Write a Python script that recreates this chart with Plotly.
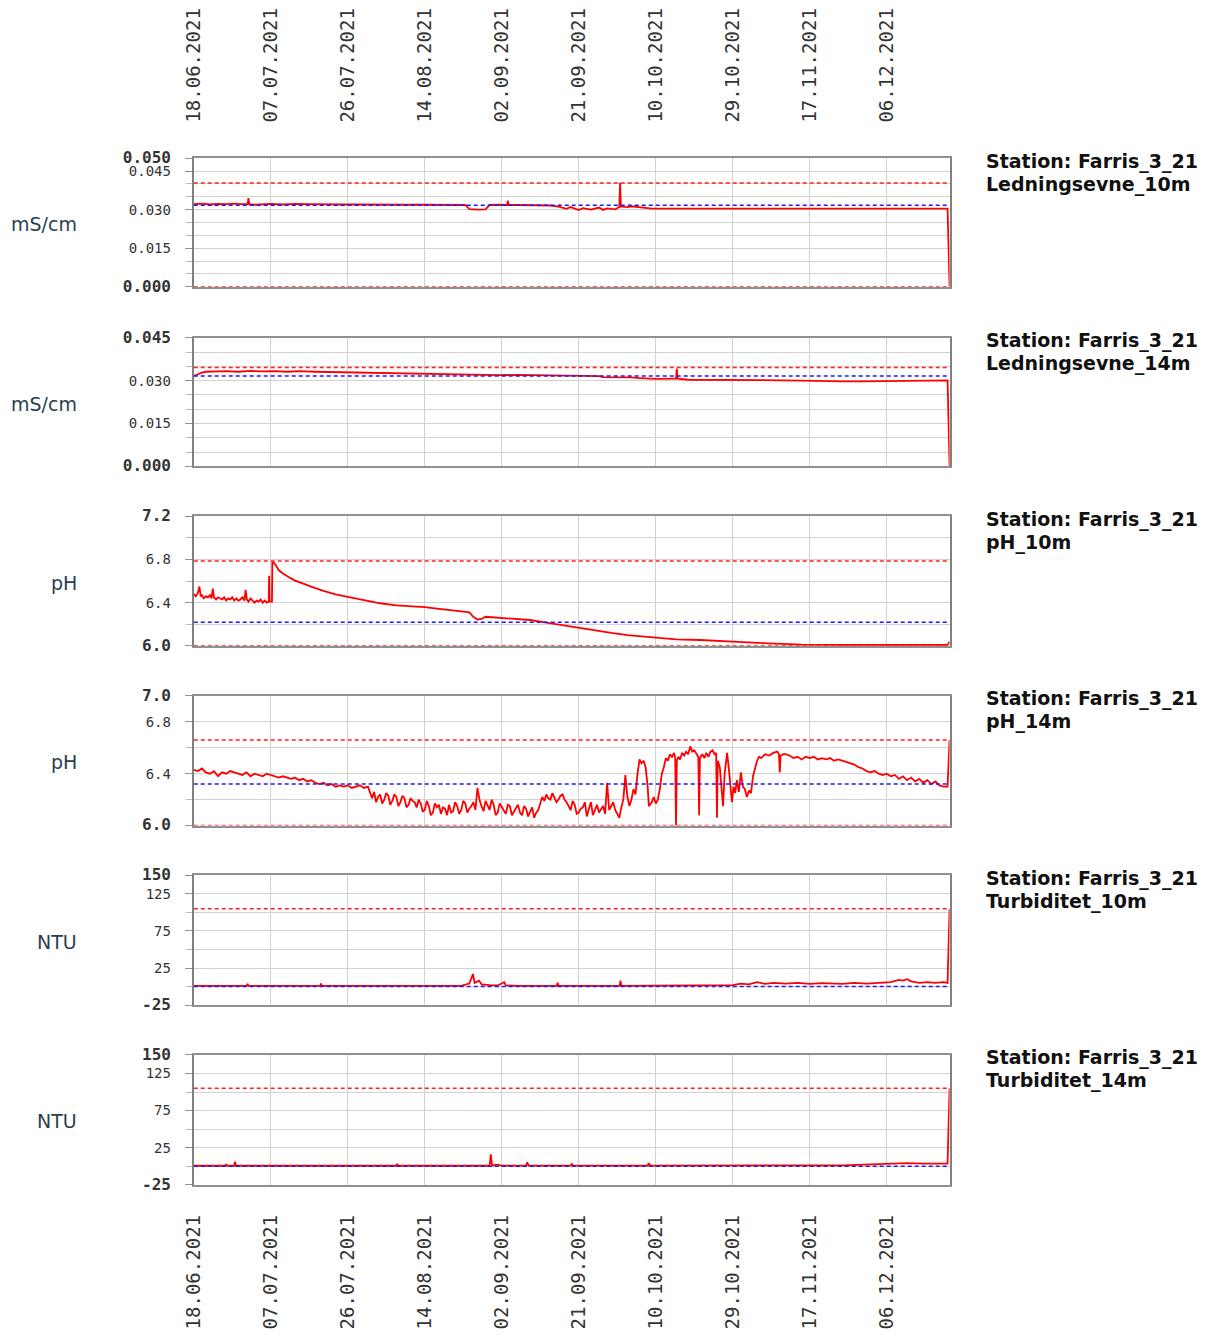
import numpy as np
import pandas as pd
import plotly.graph_objects as go

# ---------------- data ----------------
START = pd.Timestamp("2021-06-18")
END_DAY = 186.5

date_ticks = ["18.06.2021", "07.07.2021", "26.07.2021", "14.08.2021", "02.09.2021",
              "21.09.2021", "10.10.2021", "29.10.2021", "17.11.2021", "06.12.2021"]

station = "Station: Farris_3_21"
params = ["Ledningsevne_10m", "Ledningsevne_14m", "pH_10m", "pH_14m", "Turbiditet_10m", "Turbiditet_14m"]
units = ["mS/cm", "mS/cm", "pH", "pH", "NTU", "NTU"]

cond10_days = [0, 2, 4, 6, 8, 10, 12, 13.3, 13.5, 13.7, 15, 17, 19, 22, 25, 28, 31, 34, 37, 40, 44, 48,
               52, 56, 60, 64, 67, 68, 70, 72, 73, 75, 77.3, 77.5, 77.7, 80, 84, 88, 90, 92, 93, 95, 96,
               98, 100, 101, 102, 104, 105, 105.2, 105.4, 107, 108, 110, 112, 113, 120, 130, 140, 150,
               155, 160, 170, 186, 186.5]
cond10_vals = [0.0321, 0.0323, 0.0320, 0.0322, 0.0321, 0.0323, 0.0321, 0.0322, 0.0345, 0.0321, 0.0319,
               0.0321, 0.0322, 0.0320, 0.0322, 0.0321, 0.0320, 0.0321, 0.0320, 0.0320, 0.0319, 0.0320,
               0.0319, 0.0319, 0.0318, 0.0319, 0.0318, 0.0302, 0.0300, 0.0301, 0.0318, 0.0319, 0.0318,
               0.0335, 0.0318, 0.0318, 0.0317, 0.0316, 0.0312, 0.0303, 0.0310, 0.0298, 0.0306, 0.0300,
               0.0308, 0.0299, 0.0305, 0.0301, 0.0310, 0.0404, 0.0312, 0.0310, 0.0313, 0.0309, 0.0306,
               0.0304, 0.0304, 0.0304, 0.0304, 0.0304, 0.0303, 0.0304, 0.0304, 0.0304, 0.0]

cond14_days = [0, 1, 2, 3, 5, 8, 11, 14, 17, 20, 23, 26, 30, 34, 38, 42, 46, 50, 55, 60, 65, 70, 75, 80,
               85, 90, 95, 100, 101, 105, 108, 110, 114, 118, 119, 119.2, 119.4, 122, 126, 130, 135,
               140, 150, 155, 160, 165, 170, 175, 180, 186, 186.5]
cond14_vals = [0.0316, 0.0322, 0.0328, 0.0331, 0.0332, 0.0333, 0.0331, 0.0334, 0.0332, 0.0333, 0.0331,
               0.0333, 0.0331, 0.0330, 0.0329, 0.0328, 0.0326, 0.0325, 0.0323, 0.0322, 0.0320, 0.0320,
               0.0319, 0.0320, 0.0319, 0.0318, 0.0317, 0.0316, 0.0312, 0.0312, 0.0311, 0.0309, 0.0306,
               0.0307, 0.0307, 0.0342, 0.0307, 0.0303, 0.0303, 0.0302, 0.0303, 0.0302, 0.0300, 0.0298,
               0.0297, 0.0297, 0.0298, 0.0300, 0.0301, 0.0301, 0.0]

ph10_days = [0, 0.5, 1, 1.4, 1.7, 2, 2.5, 3, 3.5, 4, 4.4, 4.7, 5, 5.5, 6, 6.5, 7, 7.5, 8, 8.5,
             9, 9.5, 10, 10.5, 11, 11.5, 12, 12.5, 12.8, 13.1, 13.5, 14, 14.5, 15, 15.5, 16, 16.5, 17,
             17.5, 18, 18.5, 18.6, 18.7, 19.3, 19.4, 20, 20.5, 21, 22,
             23, 24, 25, 26, 27, 28, 30, 32, 35, 38, 40, 43, 46, 50, 54, 57, 60, 63, 66, 68, 69, 70,
             71, 72, 74, 76, 80, 83, 87, 91, 95, 99, 103, 107, 110, 114, 119, 125, 129, 133, 138, 144,
             150, 160, 170, 180, 186, 186.5]
ph10_vals = [6.48, 6.46, 6.49, 6.55, 6.46, 6.47, 6.44, 6.46, 6.45, 6.47, 6.44, 6.53, 6.45, 6.43, 6.45,
             6.44, 6.43, 6.45, 6.42, 6.44, 6.43, 6.45, 6.42, 6.44, 6.42, 6.43, 6.45, 6.42, 6.52, 6.43,
             6.41, 6.44, 6.42, 6.40, 6.42, 6.41, 6.43, 6.40, 6.42, 6.40, 6.41, 6.65, 6.41, 6.41, 6.78,
             6.76, 6.73, 6.70, 6.67,
             6.645, 6.625, 6.605, 6.59, 6.575, 6.56, 6.535, 6.51, 6.477, 6.455, 6.44, 6.415, 6.395, 6.375,
             6.365, 6.36, 6.345, 6.335, 6.32, 6.31, 6.27, 6.245, 6.25, 6.27, 6.265, 6.26, 6.25, 6.24,
             6.215, 6.19, 6.17, 6.145, 6.12, 6.10, 6.09, 6.07, 6.06, 6.055, 6.045, 6.04, 6.03, 6.02,
             6.012, 6.01, 6.008, 6.008, 6.01, 6.04]

# pH_14m: daily (days 0-43), half-daily (days 44-106), irregular (106.5-145.5), daily (146-186)
ph14_a_vals = [6.43, 6.42, 6.44, 6.41, 6.40, 6.42, 6.38, 6.41, 6.40, 6.42, 6.41,
               6.40, 6.39, 6.41, 6.38, 6.40, 6.39, 6.38, 6.40, 6.39, 6.38,
               6.37, 6.38, 6.37, 6.36, 6.37, 6.35, 6.36, 6.34, 6.35, 6.33,
               6.32, 6.33, 6.31, 6.32, 6.30, 6.31, 6.30, 6.31, 6.29, 6.30,
               6.31, 6.29, 6.30]
ph14_b_vals = [6.21, 6.26, 6.18, 6.22, 6.24, 6.17, 6.20, 6.25, 6.23, 6.16, 6.19, 6.24, 6.22, 6.15,
               6.18, 6.23, 6.21, 6.14, 6.16, 6.21, 6.19, 6.18, 6.14, 6.20, 6.17, 6.11, 6.12, 6.19,
               6.15, 6.08, 6.10, 6.17, 6.14, 6.16, 6.09, 6.14, 6.13, 6.08, 6.16, 6.10, 6.11, 6.18,
               6.15, 6.09, 6.12, 6.19, 6.17, 6.10, 6.13, 6.15, 6.18, 6.12, 6.29, 6.20, 6.15, 6.11,
               6.19, 6.16, 6.12, 6.20, 6.16, 6.08, 6.10, 6.17, 6.14, 6.12, 6.09, 6.16, 6.15, 6.08,
               6.11, 6.14, 6.16, 6.10, 6.08, 6.15, 6.13, 6.07, 6.10, 6.14, 6.06, 6.10, 6.12, 6.18,
               6.22, 6.19, 6.24, 6.21, 6.20, 6.25, 6.22, 6.18, 6.20, 6.23, 6.24, 6.20, 6.18, 6.15,
               6.12, 6.19, 6.16, 6.09, 6.10, 6.13, 6.14, 6.18, 6.07, 6.13, 6.18, 6.08, 6.12, 6.16,
               6.10, 6.13, 6.15, 6.09, 6.33, 6.12, 6.15, 6.18, 6.12, 6.09, 6.06, 6.14, 6.20]
ph14_c_days = [106.5, 107, 107.5, 108, 108.5, 109, 109.5, 110, 110.5, 111, 111.5, 112, 112.3, 113,
               113.5, 114, 114.5, 115, 115.5, 116, 116.5, 117, 117.5, 118, 118.5, 118.8, 119.0, 119.2,
               119.6, 120, 120.5, 121, 121.5, 122, 122.5, 123, 123.5, 124, 124.5, 124.7, 124.9, 125.5,
               126, 126.5, 127, 127.5, 128, 128.5, 128.9, 129.1, 129.3, 129.8, 130.2, 130.6, 131,
               131.6, 132, 132.4, 132.8, 133.2, 133.6, 134, 134.5, 135, 135.5, 136, 136.5, 137, 137.5,
               138, 138.5, 139, 139.5, 140, 141, 142, 143, 144, 144.4, 144.6, 144.8, 145.5]
ph14_c_vals = [6.39, 6.22, 6.15, 6.20, 6.28, 6.24, 6.40, 6.51, 6.48, 6.50, 6.45, 6.30, 6.15, 6.18,
               6.22, 6.17, 6.20, 6.28, 6.40, 6.45, 6.52, 6.50, 6.55, 6.53, 6.56, 6.52, 6.00, 6.50,
               6.53, 6.51, 6.56, 6.54, 6.57, 6.55, 6.61, 6.57, 6.58, 6.55, 6.53, 6.08, 6.52, 6.55,
               6.52, 6.56, 6.53, 6.57, 6.58, 6.55, 6.56, 6.06, 6.50, 6.45, 6.30, 6.15, 6.40,
               6.56, 6.45, 6.30, 6.18, 6.30, 6.25, 6.35, 6.26, 6.41, 6.30, 6.28, 6.22, 6.27, 6.25,
               6.38, 6.45, 6.50, 6.53, 6.52, 6.55, 6.54, 6.56, 6.57, 6.55, 6.41, 6.54, 6.55]
ph14_d_vals = [6.55, 6.54, 6.52, 6.53, 6.51,
               6.53, 6.52, 6.53, 6.51, 6.52, 6.51, 6.52, 6.50, 6.51, 6.50,
               6.49, 6.48, 6.47, 6.45, 6.44, 6.42, 6.41, 6.42, 6.40, 6.39,
               6.40, 6.38, 6.39, 6.36, 6.38, 6.35, 6.37, 6.34, 6.36, 6.33,
               6.35, 6.32, 6.34, 6.31, 6.30, 6.30]
ph14_end_val = 6.66

turb10_days = [0, 13, 13.3, 13.5, 31.2, 31.4, 31.6, 66, 67, 68, 68.9, 69.3, 70.4, 71, 73, 75, 76.6, 77,
               80, 89.6, 89.8, 90, 105.1, 105.3, 105.5, 130, 133, 135, 137, 139, 141, 143, 146, 149,
               152, 155, 158, 160, 163, 166, 169, 172, 174, 175, 176, 177, 179, 181, 183, 185, 186, 186.5]
turb10_vals = [0.8, 0.8, 3.5, 0.8, 0.8, 4, 0.8, 1, 2.5, 4, 17, 5, 8, 3, 2, 1.5, 6, 1.5,
               1, 1, 5, 1, 1, 8, 1, 1, 2, 4, 3, 6, 3.5, 5, 4, 5,
               3.5, 4.5, 4, 3.5, 5, 4, 5, 6, 9, 8, 10, 7, 5, 6, 5, 6, 5, 105]

turb14_days = [0, 7.8, 8, 8.2, 10, 10.2, 10.4, 50, 50.2, 50.4, 73, 73.3, 73.6, 75, 76, 82, 82.3, 82.6,
               93, 93.3, 93.6, 112, 112.3, 112.6, 160, 165, 170, 173, 176, 180, 183, 186, 186.5]
turb14_vals = [0.5, 0.5, 2.5, 0.5, 0.5, 6, 0.5, 0.5, 3, 0.5, 0.5, 16, 1, 2, 0.8, 0.8, 5, 0.8,
               0.8, 3, 0.8, 0.8, 4, 0.8, 1, 2, 3, 4, 4, 3.5, 4, 3.5, 105]

red_levels = [[0.0403, 0.0], [0.0346], [6.785, 6.0], [6.66, 6.0], [105], [105]]
blue_levels = [[0.0317], [0.0316], [6.22], [6.32], [0], [0]]

y_ranges = [[0, 0.050], [0, 0.045], [6.0, 7.2], [6.0, 7.0], [-25, 150], [-25, 150]]
y_ticks = [[0, 0.015, 0.030, 0.045, 0.050], [0, 0.015, 0.030, 0.045], [6.0, 6.4, 6.8, 7.2],
           [6.0, 6.4, 6.8, 7.0], [-25, 25, 75, 125, 150], [-25, 25, 75, 125, 150]]
y_ticklabels = [["0.000", "0.015", "0.030", "0.045", "0.050"], ["0.000", "0.015", "0.030", "0.045"],
                ["6.0", "6.4", "6.8", "7.2"], ["6.0", "6.4", "6.8", "7.0"],
                ["-25", "25", "75", "125", "150"], ["-25", "25", "75", "125", "150"]]
y_grid_step = [0.005, 0.005, 0.2, 0.2, 25, 25]

# ---------------- figure ----------------
W, H = 1197, 1321
PX_L, PX_R = 175.5, 939
panel_px = [(142.4, 273.2), (324.9, 455.6), (506.3, 638.1), (688.8, 820.6), (871.3, 1003.0),
            (1053.7, 1185.5)]
TITLE_X = 973.5
UNIT_X = 60


def days_to_dates(days):
    return START + pd.to_timedelta(np.asarray(days, dtype=float), unit="D")


ph14_days = (list(range(len(ph14_a_vals)))
             + list(np.arange(44, 106.01, 0.5))
             + ph14_c_days
             + list(range(146, 146 + len(ph14_d_vals)))
             + [END_DAY])
ph14_vals = ph14_a_vals + ph14_b_vals + ph14_c_vals + ph14_d_vals + [ph14_end_val]
assert len(ph14_days) == len(ph14_vals), (len(ph14_days), len(ph14_vals))
assert len(ph10_days) == len(ph10_vals)

series = [
    (cond10_days, cond10_vals),
    (cond14_days, cond14_vals),
    (ph10_days, ph10_vals),
    (ph14_days, ph14_vals),
    (turb10_days, turb10_vals),
    (turb14_days, turb14_vals),
]

x_start = START
x_end = START + pd.to_timedelta(END_DAY, unit="D")
tick_vals = [pd.to_datetime(t, format="%d.%m.%Y") for t in date_ticks]

fig = go.Figure()
GRID = "#d2d2d2"
MONO = "DejaVu Sans Mono"

for i in range(6):
    xa = "x" if i == 0 else f"x{i+1}"
    ya = "y" if i == 0 else f"y{i+1}"
    d, v = series[i]
    fig.add_trace(go.Scatter(x=days_to_dates(d), y=v, mode="lines", xaxis=xa, yaxis=ya,
                             line=dict(color="#ff0000", width=1.8)))
    for lv in red_levels[i]:
        fig.add_trace(go.Scatter(x=[x_start, x_end], y=[lv, lv], mode="lines", xaxis=xa, yaxis=ya,
                                 cliponaxis=False,
                                 line=dict(color="#ff2020", width=1.5, dash="4px,3px"), hoverinfo="skip"))
    for lv in blue_levels[i]:
        fig.add_trace(go.Scatter(x=[x_start, x_end], y=[lv, lv], mode="lines", xaxis=xa, yaxis=ya,
                                 cliponaxis=False,
                                 line=dict(color="#1a1aff", width=1.5, dash="4px,3px"), hoverinfo="skip"))

layout = dict(width=W, height=H, margin=dict(l=0, r=0, t=0, b=0), showlegend=False,
              plot_bgcolor="white", paper_bgcolor="white")

annotations = []
for i in range(6):
    top, bot = panel_px[i]
    suffix = "" if i == 0 else str(i + 1)
    xd = [PX_L / W, PX_R / W]
    yd = [1 - bot / H, 1 - top / H]
    show_x = i in (0, 5)
    layout["xaxis" + suffix] = dict(
        domain=xd, anchor="y" + suffix, range=[x_start, x_end], type="date",
        tickmode="array", tickvals=tick_vals, ticktext=date_ticks,
        showgrid=True, gridcolor=GRID, gridwidth=1.2,
        showline=True, linecolor="#909090", linewidth=1.5, mirror=True,
        ticks="", showticklabels=show_x, side="top" if i == 0 else "bottom",
        tickangle=-90, tickfont=dict(family=MONO, size=19, color="#333"),
        ticklabelstandoff=30 if i == 0 else 21, zeroline=False, layer="below traces",
    )
    lo, hi = y_ranges[i]
    step = y_grid_step[i]
    grid_vals = list(np.round(np.arange(lo, hi + step / 2, step), 6))
    txt = []
    for k, lab in enumerate(y_ticklabels[i]):
        if k == 0 or (k == len(y_ticklabels[i]) - 1 and y_ticks[i][k] == hi):
            txt.append(f"<span style='font-size:16px'><b>{lab}</b></span>")
        else:
            txt.append(lab)
    layout["yaxis" + suffix] = dict(
        domain=yd, anchor="x" + suffix, range=[lo, hi], tickmode="array",
        tickvals=y_ticks[i], ticktext=txt,
        tickfont=dict(family=MONO, size=14, color="#333"),
        showgrid=True, gridcolor=GRID, gridwidth=1.2,
        minor=dict(tickmode="array", tickvals=grid_vals, showgrid=True, gridcolor=GRID, gridwidth=1.2,
                   ticks="outside", ticklen=6, tickcolor="#bbbbbb"),
        ticks="outside", ticklen=7, tickcolor="#909090",
        showline=True, linecolor="#808080", linewidth=2, mirror=True,
        zeroline=False, ticklabelstandoff=11, layer="below traces",
    )
    h = bot - top
    annotations.append(dict(xref="paper", yref="paper", x=TITLE_X / W, y=1 - (top + 3) / H,
                            xanchor="left", yanchor="middle", showarrow=False, text=f"<b>{station}</b>",
                            font=dict(family="DejaVu Sans", size=19, color="#111")))
    annotations.append(dict(xref="paper", yref="paper", x=TITLE_X / W, y=1 - (top + 26.3) / H,
                            xanchor="left", yanchor="middle", showarrow=False, text=f"<b>{params[i]}</b>",
                            font=dict(family="DejaVu Sans", size=19, color="#111")))
    annotations.append(dict(xref="paper", yref="paper", x=UNIT_X / W, y=1 - ((top + bot) / 2 + 1.5) / H,
                            xanchor="right", yanchor="middle", showarrow=False, text=units[i],
                            font=dict(family="DejaVu Sans", size=19, color="#2c3e50")))

layout["annotations"] = annotations
fig.update_layout(**layout)
fig.write_html("out.html")
